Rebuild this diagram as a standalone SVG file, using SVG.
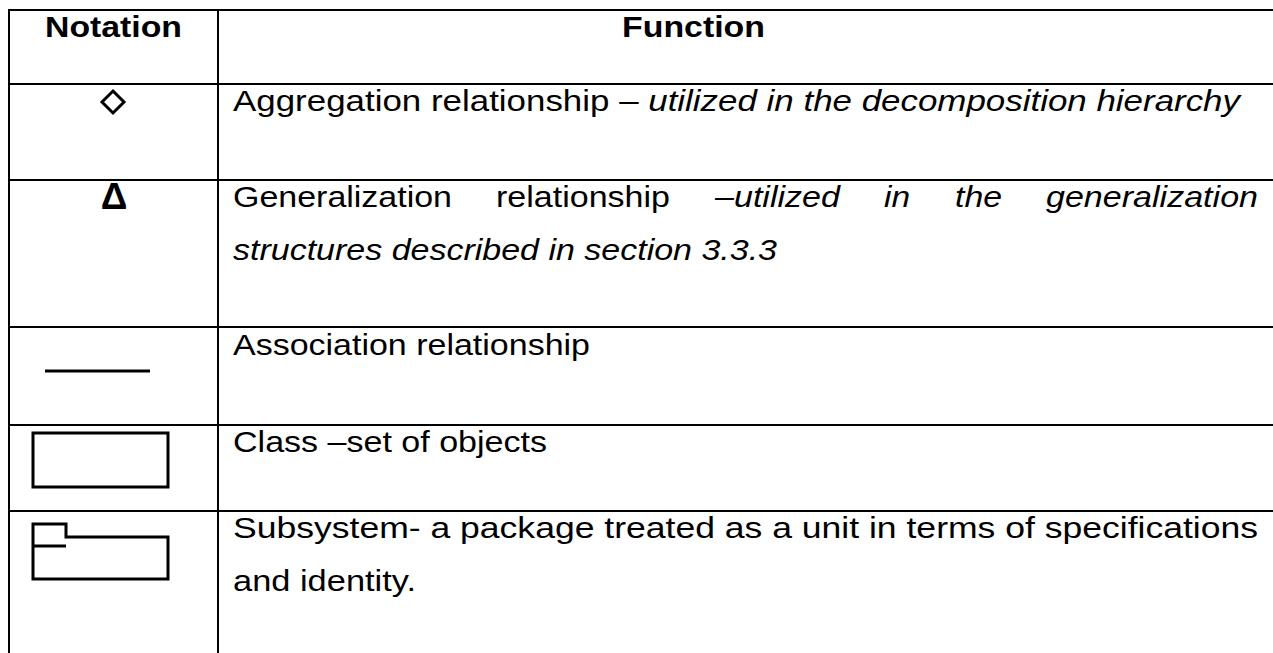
<svg xmlns="http://www.w3.org/2000/svg" width="1273" height="653" viewBox="0 0 1273 653">
  <style>
    .grid { stroke: #000; stroke-width: 2; fill: none; }
    .sym { stroke: #000; stroke-width: 3; fill: none; }
    .t { font-family: "Liberation Sans", Arial, sans-serif; font-size: 30px; fill: #000; }
    .b { font-weight: bold; }
    .i { font-style: italic; }
  </style>
  <rect width="1273" height="653" fill="#fff"/>

  <!-- table rules -->
  <g id="table-grid" class="grid">
    <line x1="9" y1="10" x2="1273" y2="10"/>
    <line x1="9" y1="84" x2="1273" y2="84"/>
    <line x1="9" y1="180" x2="1273" y2="180"/>
    <line x1="9" y1="327" x2="1273" y2="327"/>
    <line x1="9" y1="425" x2="1273" y2="425"/>
    <line x1="9" y1="511" x2="1273" y2="511"/>
    <line x1="9" y1="9" x2="9" y2="653"/>
    <line x1="218" y1="9" x2="218" y2="653"/>
  </g>

  <!-- header row -->
  <g id="header">
    <text class="t b" x="45" y="37" textLength="137" lengthAdjust="spacingAndGlyphs">Notation</text>
    <text class="t b" x="622" y="37" textLength="143" lengthAdjust="spacingAndGlyphs">Function</text>
  </g>

  <!-- aggregation -->
  <g id="row-aggregation">
    <polygon class="sym" points="113,91 124,102 113,113 102,102" stroke-width="3.5"/>
    <text class="t" x="233" y="111" textLength="1007" lengthAdjust="spacingAndGlyphs">Aggregation relationship – <tspan class="i">utilized in the decomposition hierarchy</tspan></text>
  </g>

  <!-- generalization -->
  <g id="row-generalization">
    <text class="t b" x="114" y="209" text-anchor="middle" style="font-size:37px">Δ</text>
    <text class="t" x="233" y="207" textLength="219" lengthAdjust="spacingAndGlyphs">Generalization</text>
    <text class="t" x="496" y="207" textLength="174" lengthAdjust="spacingAndGlyphs">relationship</text>
    <text class="t i" x="715" y="207" textLength="125" lengthAdjust="spacingAndGlyphs">–utilized</text>
    <text class="t i" x="884" y="207" textLength="26" lengthAdjust="spacingAndGlyphs">in</text>
    <text class="t i" x="955" y="207" textLength="47" lengthAdjust="spacingAndGlyphs">the</text>
    <text class="t i" x="1046" y="207" textLength="212" lengthAdjust="spacingAndGlyphs">generalization</text>
    <text class="t i" x="233" y="260" textLength="544" lengthAdjust="spacingAndGlyphs">structures described in section 3.3.3</text>
  </g>

  <!-- association -->
  <g id="row-association">
    <line class="sym" x1="45" y1="371" x2="150" y2="371"/>
    <text class="t" x="233" y="355" textLength="357" lengthAdjust="spacingAndGlyphs">Association relationship</text>
  </g>

  <!-- class -->
  <g id="row-class">
    <rect class="sym" x="33" y="433" width="135" height="54"/>
    <text class="t" x="233" y="452" textLength="314" lengthAdjust="spacingAndGlyphs">Class –set of objects</text>
  </g>

  <!-- subsystem -->
  <g id="row-subsystem">
    <path class="sym" d="M33,524 H66 V537 H168 V579 H33 Z M33,546 H66"/>
    <text class="t" x="233" y="538" textLength="1025" lengthAdjust="spacingAndGlyphs">Subsystem- a package treated as a unit in terms of specifications</text>
    <text class="t" x="233" y="591" textLength="183" lengthAdjust="spacingAndGlyphs">and identity.</text>
  </g>
</svg>
